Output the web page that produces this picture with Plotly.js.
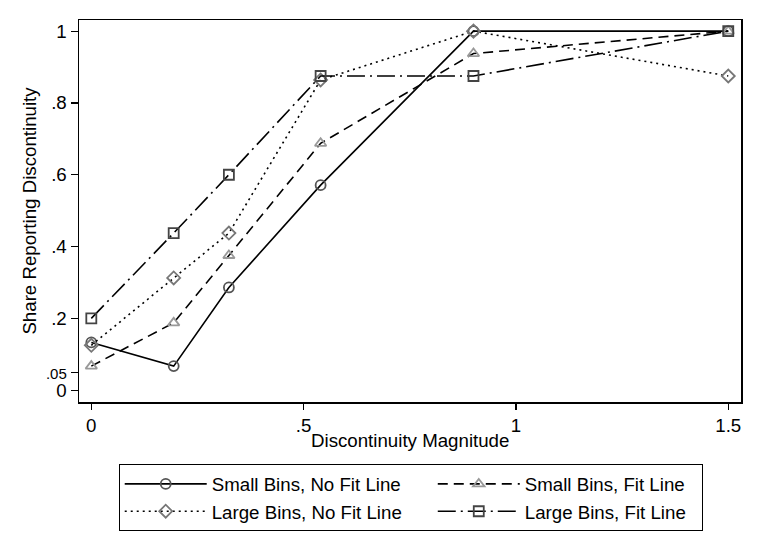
<!DOCTYPE html>
<html>
<head>
<meta charset="utf-8">
<script src="https://cdn.plot.ly/plotly-3.0.1.min.js"></script>
<style>html,body{margin:0;padding:0;background:#fff;}#chart{width:761px;height:554px;}</style>
</head>
<body>
<div id="chart"></div>
<script>
var xMagnitude = [0, 0.194, 0.324, 0.54, 0.9, 1.5];
var smallNoFit = [0.133, 0.067, 0.286, 0.571, 1.0, 1.0];
var smallFit = [0.067, 0.1875, 0.375, 0.6875, 0.9375, 1.0];
var largeNoFit = [0.125, 0.3125, 0.4375, 0.864, 1.0, 0.875];
var largeFit = [0.2, 0.4375, 0.6, 0.875, 0.875, 1.0];
var seriesNames = ["Small Bins, No Fit Line", "Small Bins, Fit Line", "Large Bins, No Fit Line", "Large Bins, Fit Line"];
var yTickVals = [0, 0.05, 0.2, 0.4, 0.6, 0.8, 1];
var yTickText = ["0", ".05", ".2", ".4", ".6", ".8", "1"];
var xTickVals = [0, 0.5, 1, 1.5];
var xTickText = ["0", ".5", "1", "1.5"];
var xTitle = "Discontinuity Magnitude";
var yTitle = "Share Reporting Discontinuity";

// the .05 tick label is drawn smaller in the reference
var yTickTextStyled = yTickText.map(function (t) {
  return t === ".05" ? "<span style='font-size:15px'>" + t + "</span>" : t;
});

// non-breaking padding only to space the two legend columns like the reference
var NB = '\u00a0';
function pad(s, n) { return s + NB.repeat(n); }

function tr(y, name, dash, symbol, mcolor) {
  return {
    x: xMagnitude, y: y, name: name, type: 'scatter', mode: 'lines+markers',
    line: {color: '#000', width: 1.6, dash: dash},
    marker: {symbol: symbol, size: 10, color: mcolor, line: {color: mcolor, width: 1.8}}
  };
}
var data = [
  tr(smallNoFit, pad(seriesNames[0], 5), 'solid', 'circle-open', '#555'),
  tr(smallFit, pad(seriesNames[1], 2), '10px,6px', 'triangle-up-open', '#999'),
  tr(largeNoFit, pad(seriesNames[2], 5), '2px,4px', 'diamond-open', '#777'),
  tr(largeFit, pad(seriesNames[3], 2), '18px,5px,2px,5px', 'square-open', '#444')
];
var axisFont = {family: 'Liberation Sans, Arial, sans-serif', size: 18.7, color: '#000'};
var layout = {
  width: 761, height: 554,
  margin: {l: 79, r: 20, t: 20, b: 152},
  paper_bgcolor: '#fff', plot_bgcolor: '#fff',
  font: {family: 'Liberation Sans, Arial, sans-serif', color: '#000'},
  showlegend: true,
  xaxis: {
    range: [-0.029, 1.53], tickvals: xTickVals, ticktext: xTickText,
    ticks: 'outside', ticklen: 6, tickwidth: 1.2, tickcolor: '#000',
    showline: true, mirror: true, linecolor: '#000', linewidth: 1.5,
    showgrid: false, zeroline: false, tickfont: axisFont
  },
  yaxis: {
    range: [-0.033, 1.031], tickvals: yTickVals, ticktext: yTickTextStyled,
    ticks: 'outside', ticklen: 7, tickwidth: 1.2, tickcolor: '#000',
    showline: true, mirror: true, linecolor: '#000', linewidth: 1.5,
    showgrid: false, zeroline: false, tickfont: axisFont,
    title: {text: yTitle, font: axisFont, standoff: 4}
  },
  annotations: [{
    text: xTitle, xref: 'paper', yref: 'paper', x: 0.5, y: -0.1,
    xanchor: 'center', yanchor: 'middle', showarrow: false, font: axisFont
  }],
  legend: {
    orientation: 'h', x: 0.06, xanchor: 'left', y: -0.163, yanchor: 'top',
    bordercolor: '#000', borderwidth: 1, bgcolor: '#fff',
    font: {family: 'Liberation Sans, Arial, sans-serif', size: 18.7, color: '#000'},
    itemwidth: 82, tracegroupgap: 0, traceorder: 'normal'
  }
};
Plotly.newPlot('chart', data, layout, {displayModeBar: false, staticPlot: true});
</script>
</body>
</html>
